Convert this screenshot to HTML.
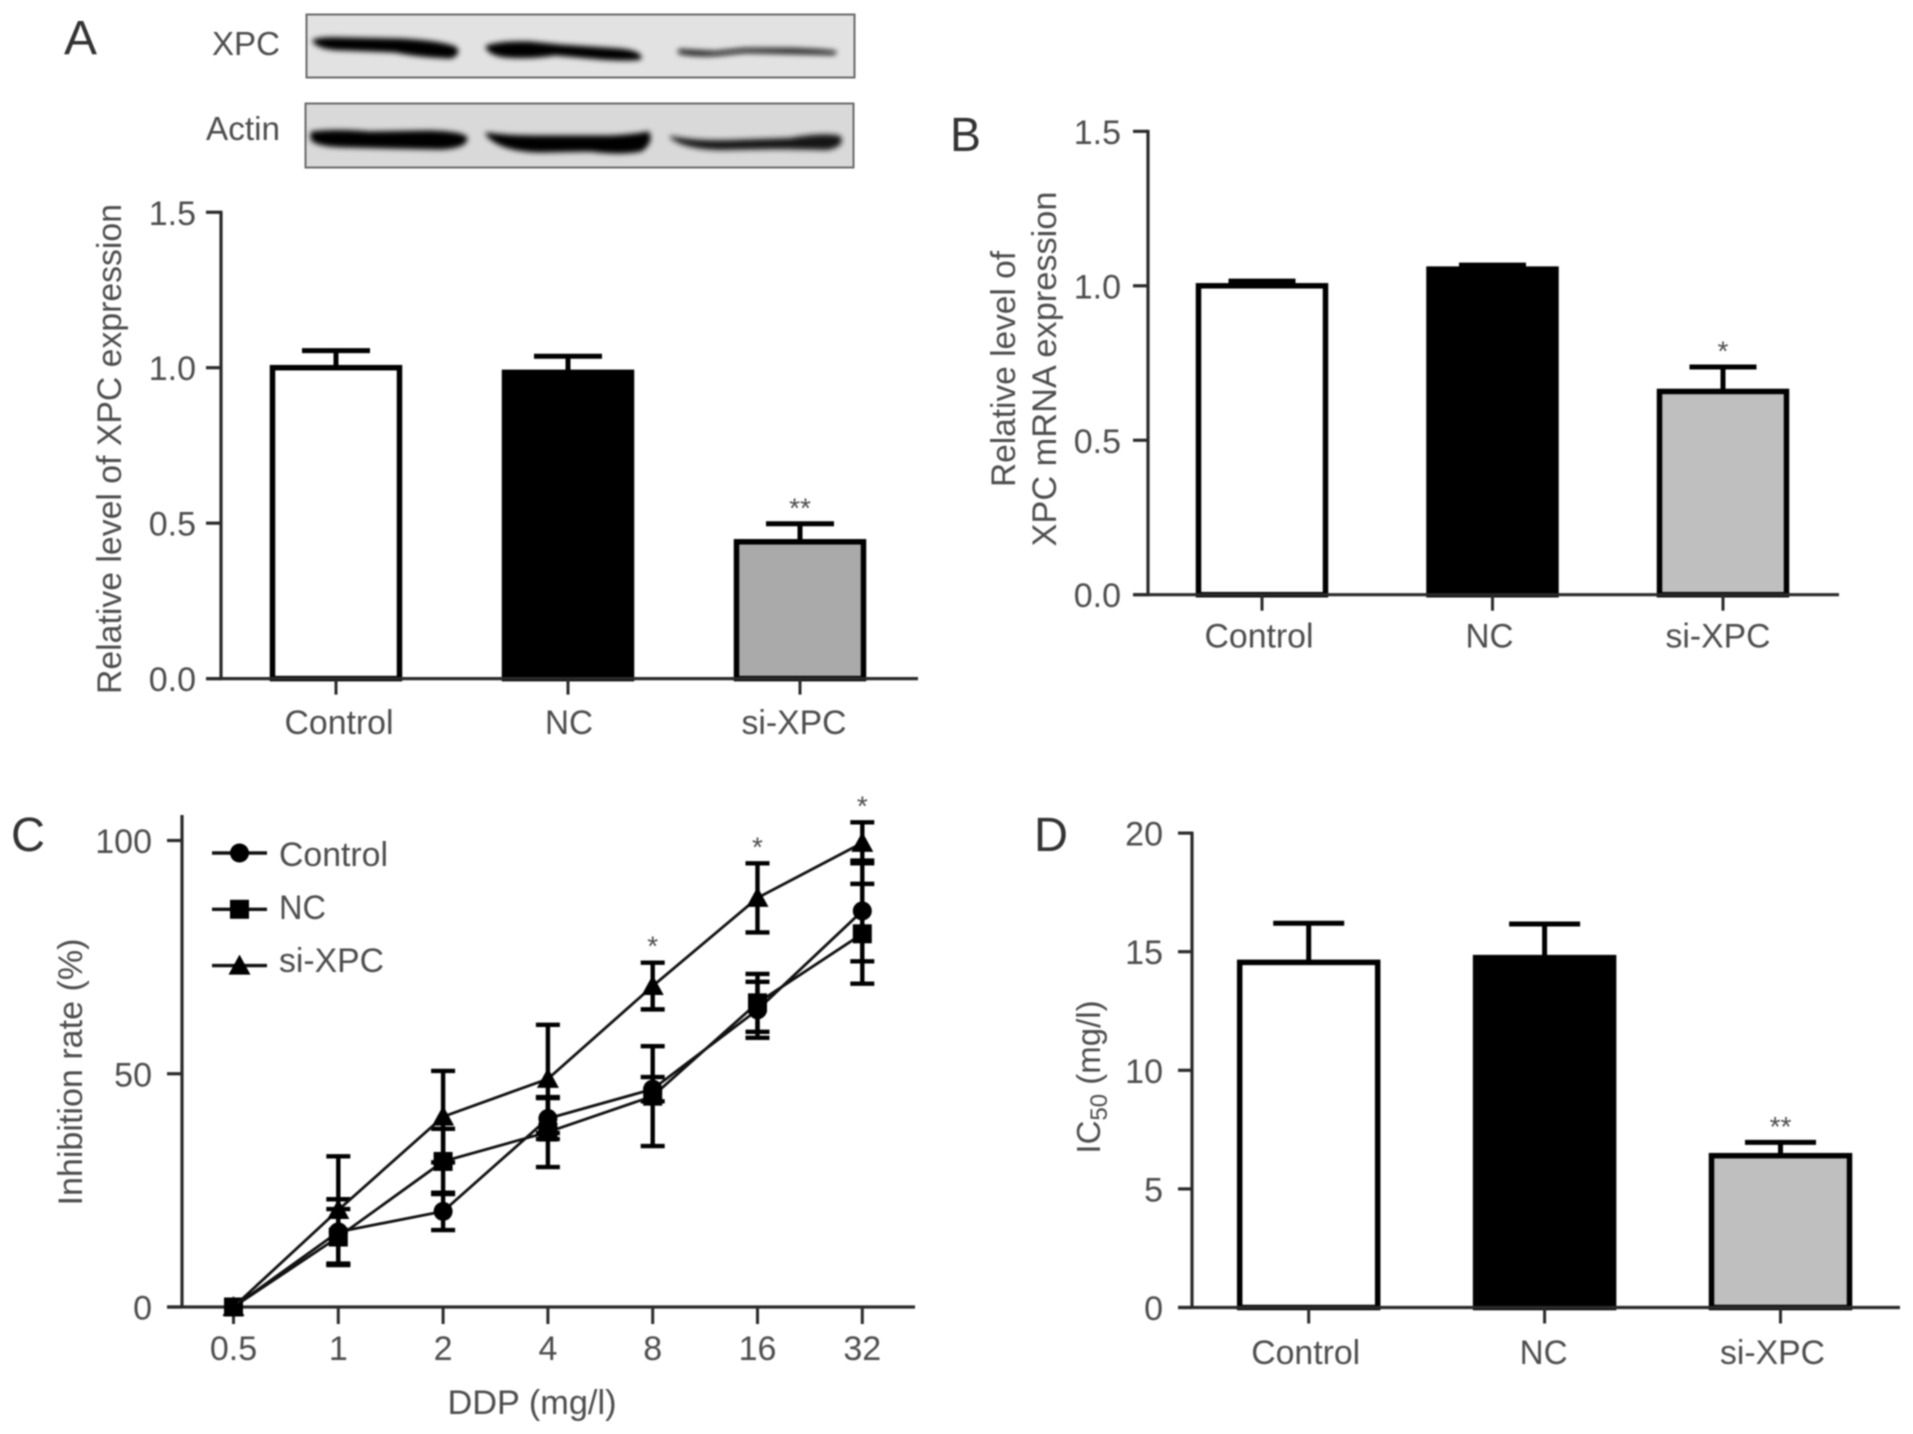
<!DOCTYPE html>
<html lang="en">
<head>
<meta charset="utf-8">
<title>XPC knockdown figure</title>
<style>
html,body{margin:0;padding:0;background:#fff;}
svg{display:block;filter:blur(0.7px);}
text{font-family:"Liberation Sans",sans-serif;fill:#4d4d4d;}
</style>
</head>
<body>
<svg id="fig" xmlns="http://www.w3.org/2000/svg" width="1913" height="1434" viewBox="0 0 1913 1434">
  <defs>
    <filter id="bandBlur" x="-10%" y="-100%" width="120%" height="300%"><feGaussianBlur stdDeviation="2.6"/></filter>
  </defs>
  <rect width="1913" height="1434" fill="#fff"/>

  <text x="64" y="54" font-size="48" style="fill:#333" textLength="33" lengthAdjust="spacingAndGlyphs">A</text>
  <text x="950" y="151" font-size="48" style="fill:#333" textLength="31" lengthAdjust="spacingAndGlyphs">B</text>
  <text x="11" y="851" font-size="48" style="fill:#333" textLength="34" lengthAdjust="spacingAndGlyphs">C</text>
  <text x="1034" y="851" font-size="48" style="fill:#333" textLength="34" lengthAdjust="spacingAndGlyphs">D</text>

  <g>
    <text x="212" y="55" font-size="33" textLength="68" lengthAdjust="spacingAndGlyphs">XPC</text>
    <text x="206" y="140" font-size="33" textLength="74" lengthAdjust="spacingAndGlyphs">Actin</text>
    <rect x="306.5" y="14.5" width="548" height="63" fill="#e2e2e2" stroke="#6a6a6a" stroke-width="2"/>
    <rect x="305.5" y="103.5" width="548" height="64" fill="#d9d9d9" stroke="#6a6a6a" stroke-width="2"/>
    <g filter="url(#bandBlur)" fill="#050505" stroke="#050505" stroke-width="3" stroke-linejoin="round">
      <path d="M314 41 Q320 38 345 39 L400 40 Q440 42 455 48 Q460 53 451 57 Q420 56 395 51 L345 49 Q320 49 314 41Z"/>
      <path d="M487 47 Q500 42 530 43 L560 46 L620 50 Q640 52 640 58 Q630 60 600 58 L555 54 Q530 58 505 56 Q490 54 487 47Z"/>
      <path d="M679 50 L715 52 L745 49 L790 49 Q825 50 836 52 L834 54 L790 53 L745 52 L715 55 Q695 56 679 53Z" fill="#111" stroke="#111" stroke-width="1.5"/>
      <path d="M312 133 Q335 130 370 133 L430 132 Q462 133 466 138 Q466 147 440 148 L390 147 L350 146 Q318 146 312 139Z"/>
      <path d="M487 134 Q505 137 540 137 L610 137 Q635 136 648 133 Q652 142 641 150 Q620 154 590 150 L540 151 Q500 150 487 134Z"/>
      <path d="M671 137 Q695 142 730 141 L790 139 Q825 133 840 137 Q844 146 827 149 L780 148 L720 149 Q683 148 671 137Z" fill="#141414" stroke="#141414" stroke-width="2"/>
    </g>
  </g>

  <text transform="translate(121 449) rotate(-90)" text-anchor="middle" font-size="34" textLength="490" lengthAdjust="spacingAndGlyphs">Relative level of XPC expression</text>
  <text transform="translate(1015 369) rotate(-90)" text-anchor="middle" font-size="34" textLength="236" lengthAdjust="spacingAndGlyphs">Relative level of</text>
  <text transform="translate(1056 369) rotate(-90)" text-anchor="middle" font-size="34" textLength="355" lengthAdjust="spacingAndGlyphs">XPC mRNA expression</text>
  <text transform="translate(82 1072) rotate(-90)" text-anchor="middle" font-size="34" textLength="267" lengthAdjust="spacingAndGlyphs">Inhibition rate (%)</text>
  <text x="532" y="1414" text-anchor="middle" font-size="34" textLength="169" lengthAdjust="spacingAndGlyphs">DDP (mg/l)</text>
  <text transform="translate(1100 1077) rotate(-90)" text-anchor="middle" font-size="33">IC<tspan dy="7" font-size="24">50</tspan><tspan dy="-7"> (mg/l)</tspan></text>

  <g id="panelA"></g>
  <g id="panelB"></g>
  <g id="panelC"></g>
  <g id="panelD"></g>
</svg>
<script>
// ---- data ----
const barCategories = ["Control", "NC", "si-XPC"];
const barFills = ["#ffffff", "#000000", "#aaaaaa"];
const barFillsLight = ["#ffffff", "#000000", "#bfbfbf"];

const aTicks = [0, 0.5, 1.0, 1.5];
const aTickLabels = ["0.0", "0.5", "1.0", "1.5"];
const aValues = [1.0, 0.985, 0.44];
const aUpper = [1.055, 1.037, 0.498];
const aStars = ["", "", "**"];

const bTicks = [0, 0.5, 1.0, 1.5];
const bTickLabels = ["0.0", "0.5", "1.0", "1.5"];
const bValues = [1.0, 1.054, 0.658];
const bUpper = [1.015, 1.067, 0.737];
const bStars = ["", "", "*"];

const dTicks = [0, 5, 10, 15, 20];
const dTickLabels = ["0", "5", "10", "15", "20"];
const dValues = [14.55, 14.75, 6.4];
const dUpper = [16.2, 16.17, 6.96];
const dStars = ["", "", "**"];

const doseLabels = ["0.5", "1", "2", "4", "8", "16", "32"];
const cTicks = [0, 50, 100];
const cTickLabels = ["0", "50", "100"];
const controlValues = [0, 16.1, 20.5, 40.4, 46.7, 63.7, 84.9];
const controlErrors = [0, 7, 4, 4.4, 2.6, 6, 10.8];
const ncValues = [0, 15, 31.2, 37.5, 45.2, 65.2, 80];
const ncErrors = [0, 6, 7, 7.5, 10.7, 6.2, 10.7];
const siValues = [0, 20.8, 40.8, 48.9, 68.8, 87.7, 99.5];
const siErrors = [0, 11.5, 9.8, 11.6, 5, 7.4, 4.4];
const siStars = ["", "", "", "", "*", "*", "*"];

// ---- drawing helpers ----
const NS = "http://www.w3.org/2000/svg";
function mark(parent, tag, attrs, name) {
  const el = document.createElementNS(NS, tag);
  for (const k in attrs) el.setAttribute(k, attrs[k]);
  
  
  parent.appendChild(el);
  return el;
}
function label(parent, str, x, y, anchor, size, name) {
  const t = mark(parent, "text", {x: x, y: y, "text-anchor": anchor, "font-size": size}, name);
  t.textContent = str;
  return t;
}
function line(parent, x1, y1, x2, y2, w, color, name) {
  return mark(parent, "line", {x1: x1, y1: y1, x2: x2, y2: y2, "stroke-width": w, stroke: color}, name);
}

function drawAxes(g, o, ticks, tickLabels, y) {
  line(g, o.axisX, y(ticks[ticks.length - 1]) - (o.overTop || 0) - 1.5, o.axisX, o.zeroY + 1.5, 3.2, "#2a2a2a", "y-axis-line");
  ticks.forEach(function (v, i) {
    line(g, o.tickLeft, y(v), o.axisX, y(v), 3.2, "#2a2a2a", "y-axis-tick");
    label(g, tickLabels[i], o.labelRight, y(v) + 12.5, "end", 34, "y-tick-label");
  });
  line(g, o.tickLeft, o.zeroY, o.axisRight, o.zeroY, 3.2, "#2a2a2a", "x-axis-line");
}

function drawBars(id, o, ticks, tickLabels, values, upper, stars, fills) {
  const g = document.getElementById(id);
  const y = function (v) { return o.zeroY - v * o.unit; };
  const x = function (i) { return o.firstX + i * o.stepX; };
  values.forEach(function (v, i) {
    const cx = x(i);
    line(g, cx, y(v), cx, y(upper[i]), 5, "#000", "error-stem-" + barCategories[i]);
    line(g, cx - o.capW / 2, y(upper[i]), cx + o.capW / 2, y(upper[i]), 5, "#000", "error-cap-" + barCategories[i]);
    mark(g, "rect", {x: cx - o.barW / 2, y: y(v), width: o.barW, height: o.zeroY - y(v), fill: fills[i], stroke: "#000", "stroke-width": 5.5}, "bar-" + barCategories[i]);
    if (stars[i]) {
      label(g, stars[i], cx, y(upper[i]) - 6.5, "middle", 28, "significance-marker");
    }
  });
  drawAxes(g, o, ticks, tickLabels, y);
  barCategories.forEach(function (c, i) {
    line(g, x(i), o.zeroY, x(i), o.zeroY + 16, 3, "#2a2a2a", "x-axis-tick");
    const t = label(g, c, x(i) + o.labelShift[i], o.xLabelY, "middle", 34, "x-tick-label");
    t.setAttribute("textLength", [109, 48, 105][i]);
    t.setAttribute("lengthAdjust", "spacingAndGlyphs");
  });
}

drawBars("panelA", {axisX: 221, tickLeft: 206, axisRight: 918, labelRight: 196, zeroY: 678.6, unit: 310.9,
  firstX: 336, stepX: 232, barW: 127, capW: 68, xLabelY: 734, labelShift: [3, 1, -6]},
  aTicks, aTickLabels, aValues, aUpper, aStars, barFills);

drawBars("panelB", {axisX: 1148, tickLeft: 1133, axisRight: 1839, labelRight: 1121, zeroY: 594.7, unit: 308.9,
  firstX: 1262, stepX: 230.5, barW: 127, capW: 67, xLabelY: 647.5, labelShift: [-3, -3, -5]},
  bTicks, bTickLabels, bValues, bUpper, bStars, barFillsLight);

drawBars("panelD", {axisX: 1192, tickLeft: 1178, axisRight: 1900, labelRight: 1163, zeroY: 1307.5, unit: 23.72,
  firstX: 1308.7, stepX: 235.9, barW: 138, capW: 71, xLabelY: 1364, labelShift: [-3, -1, -8]},
  dTicks, dTickLabels, dValues, dUpper, dStars, barFillsLight);

// ---- panel C: dose response ----
(function () {
  const g = document.getElementById("panelC");
  const o = {axisX: 182, tickLeft: 167, axisRight: 915, labelRight: 152, zeroY: 1307, unit: 4.665, overTop: 24};
  const y = function (v) { return o.zeroY - v * o.unit; };
  const x = function (i) { return 233.5 + i * 104.8; };
  drawAxes(g, o, cTicks, cTickLabels, y);
  doseLabels.forEach(function (d, i) {
    line(g, x(i), o.zeroY, x(i), o.zeroY + 17, 3, "#2a2a2a", "x-axis-tick");
    label(g, d, x(i), 1360, "middle", 34, "x-tick-label");
  });

  function marker(kind, cx, cy, name) {
    if (kind === "circle") {
      mark(g, "circle", {cx: cx, cy: cy, r: 9.5, fill: "#000"}, name);
    } else if (kind === "square") {
      mark(g, "rect", {x: cx - 9.5, y: cy - 9.5, width: 19, height: 19, fill: "#000"}, name);
    } else {
      mark(g, "polygon", {points: (cx - 11) + "," + (cy + 9) + " " + cx + "," + (cy - 11) + " " + (cx + 11) + "," + (cy + 9), fill: "#000"}, name);
    }
  }
  function series(name, values, errors, kind) {
    const pts = values.map(function (v, i) { return x(i) + "," + y(v); }).join(" ");
    mark(g, "polyline", {points: pts, fill: "none", stroke: "#111", "stroke-width": 2.8}, "line-" + name);
    values.forEach(function (v, i) {
      if (errors[i] > 0) {
        const top = y(v + errors[i]);
        const bot = y(v - errors[i]);
        line(g, x(i), top, x(i), bot, 4.4, "#000", "error-stem-" + name);
        line(g, x(i) - 12, top, x(i) + 12, top, 4.4, "#000", "error-cap-" + name);
        line(g, x(i) - 12, bot, x(i) + 12, bot, 4.4, "#000", "error-cap-" + name);
      }
      marker(kind, x(i), y(v), "point-" + name);
    });
  }
  series("control", controlValues, controlErrors, "circle");
  series("nc", ncValues, ncErrors, "square");
  series("si-xpc", siValues, siErrors, "triangle");
  siStars.forEach(function (s, i) {
    if (s) label(g, s, x(i), y(siValues[i] + siErrors[i]) - 7, "middle", 28, "significance-marker");
  });

  const legendNames = ["Control", "NC", "si-XPC"];
  const legendKinds = ["circle", "square", "triangle"];
  legendNames.forEach(function (n, i) {
    const ly = 853 + i * 56.3;
    line(g, 212, ly, 267, ly, 3.4, "#111", "legend-line-" + n);
    marker(legendKinds[i], 239.5, ly, "legend-marker-" + n);
    const t = label(g, n, 279, 866 + i * 53, "start", 34, "legend-label-" + n);
    t.setAttribute("textLength", [109, 47, 105][i]);
    t.setAttribute("lengthAdjust", "spacingAndGlyphs");
  });
})();
</script>
</body>
</html>
